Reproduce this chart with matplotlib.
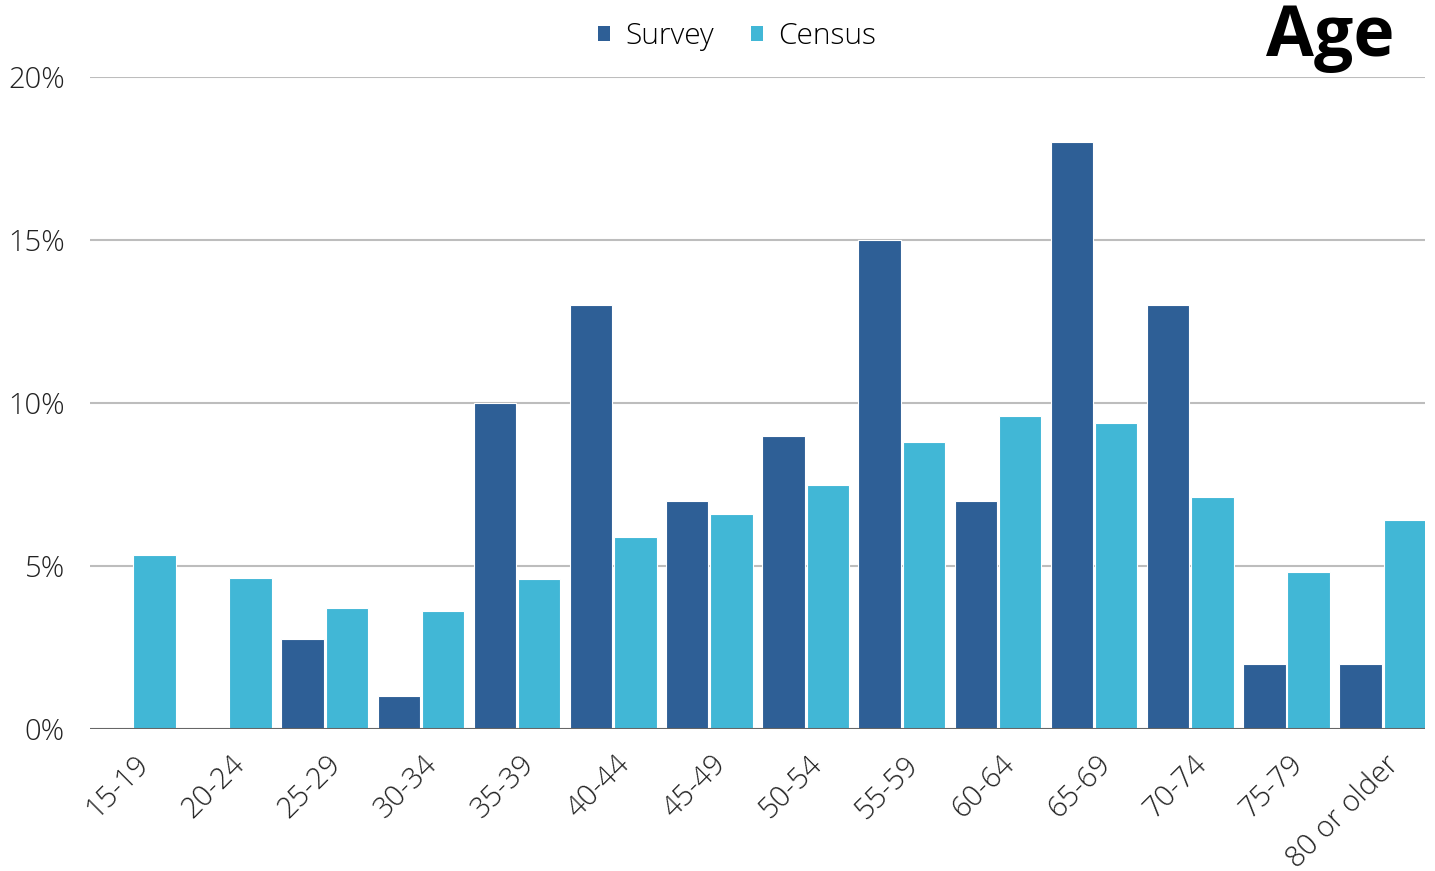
import matplotlib
matplotlib.use("Agg")
import matplotlib.pyplot as plt
import numpy as np
from matplotlib.patches import Patch

categories = ["15-19", "20-24", "25-29", "30-34", "35-39", "40-44", "45-49",
              "50-54", "55-59", "60-64", "65-69", "70-74", "75-79", "80 or older"]
survey = [0, 0, 2.75, 1.0, 10.0, 13.0, 7.0, 9.0, 15.0, 7.0, 18.0, 13.0, 2.0, 2.0]
census = [5.33, 4.63, 3.71, 3.62, 4.6, 5.89, 6.6, 7.48, 8.8, 9.6, 9.39, 7.12, 4.82, 6.41]
yticks = [0, 5, 10, 15, 20]
ytick_labels = ["0%", "5%", "10%", "15%", "20%"]

survey_color = "#2E5F96"
census_color = "#41B7D6"

plt.rcParams['font.family'] = ['Open Sans', 'DejaVu Sans']

W, H = 1435, 871
fig = plt.figure(figsize=(W / 100, H / 100), dpi=100)
ax = fig.add_axes([90 / W, 1 - 729 / H, (1425 - 90) / W, (729 - 77) / H])

x = np.arange(len(categories))
bw = 0.44
ax.bar(x - 0.23, survey, width=bw, color=survey_color, edgecolor="white", linewidth=0.8, zorder=3)
ax.bar(x + 0.23, census, width=bw, color=census_color, edgecolor="white", linewidth=0.8, zorder=3)

ax.set_xlim(-0.44, 13.44)
ax.set_ylim(0, 20)
ax.set_yticks(yticks)
ax.set_yticklabels(ytick_labels, fontsize=21, fontweight='light', color="#222222")
ax.grid(axis='y', color="#BDBDBD", linewidth=1.5, zorder=0)
ax.axhline(0, color="#666666", linewidth=2.2, zorder=4)
for s in ax.spines.values():
    s.set_visible(False)
ax.tick_params(axis='y', length=0, pad=18)
ax.tick_params(axis='x', length=0, pad=15)

ax.set_xticks(x + 0.02)
ax.set_xticklabels(categories, rotation=45, ha='right', va='top', rotation_mode='anchor',
                   fontsize=21, fontweight='light', color="#222222")

handles = [Patch(facecolor=survey_color, label="Survey"), Patch(facecolor=census_color, label="Census")]
fig.legend(handles=handles, loc='center', bbox_to_anchor=(737 / W, 1 - 36 / H), ncol=2,
           frameon=False, prop={'size': 21.5, 'weight': 'light'}, handlelength=0.4, handleheight=0.4,
           handletextpad=0.5, columnspacing=1.25)

fig.text(1395 / W, 1 - 38 / H, "Age", ha='right', va='center', fontsize=50, fontweight='bold',
         color="black")

fig.savefig("out.png", dpi=100)
